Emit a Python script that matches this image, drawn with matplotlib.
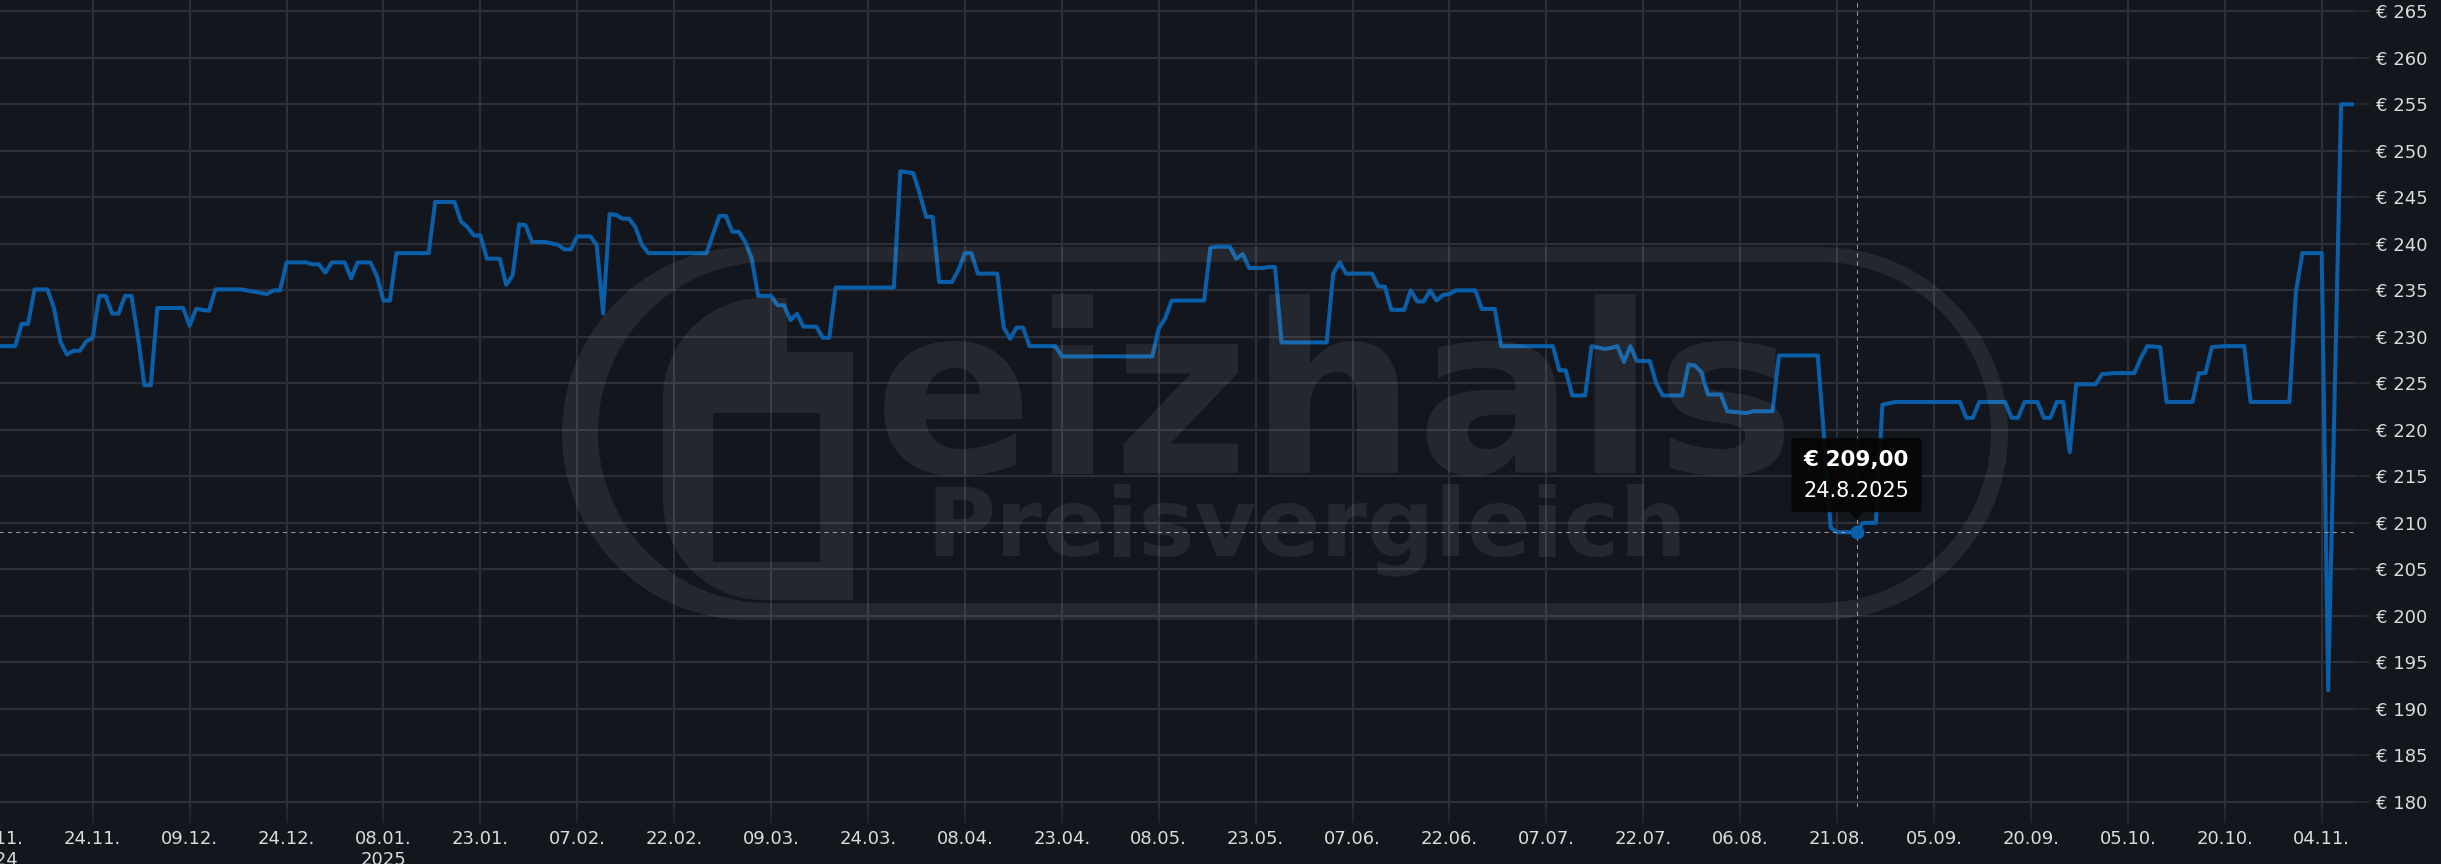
import numpy as np
import pandas as pd
import matplotlib
matplotlib.use("Agg")
import matplotlib.pyplot as plt
import matplotlib.dates as mdates
import matplotlib.transforms as mtransforms
from matplotlib.path import Path
from matplotlib.patches import PathPatch, FancyBboxPatch, Polygon

# price history: days after 24.11.2024 and price in EUR
start_date = "2024-11-24"
day_offsets = [
    -15, -12, -11, -10, -9, -7, -6, -5, -4, -3, -2, -1, 0, 1, 2, 3, 4, 5, 6, 7,
    8, 9, 10, 14, 15, 16, 18, 19, 23, 27, 28, 29, 30, 33, 34, 35, 36, 37, 39, 40,
    41, 43, 44, 45, 46, 47, 52, 53, 56, 57, 58, 59, 60, 61, 63, 64, 65, 66, 67, 68,
    70, 72, 73, 74, 75, 77, 78, 79, 80, 81, 82, 83, 84, 85, 86, 95, 97, 98, 99, 100,
    101, 102, 103, 105, 106, 107, 108, 109, 110, 112, 113, 114, 115, 124, 125, 127, 128, 129, 130, 131,
    133, 134, 135, 136, 137, 140, 141, 142, 143, 144, 145, 149, 150, 164, 165, 166, 167, 172, 173, 174,
    176, 177, 178, 179, 181, 182, 183, 184, 191, 192, 193, 194, 198, 199, 200, 201, 203, 204, 205, 206,
    207, 208, 209, 210, 211, 214, 215, 217, 218, 226, 227, 228, 229, 231, 232, 234, 235, 236, 237, 238,
    239, 241, 242, 243, 246, 247, 248, 249, 250, 252, 253, 256, 257, 260, 261, 267, 268, 269, 270, 273,
    274, 276, 277, 279, 289, 290, 291, 292, 296, 297, 298, 299, 301, 302, 303, 304, 305, 306, 307, 310,
    311, 313, 316, 317, 318, 320, 321, 325, 326, 327, 328, 330, 333, 334, 340, 341, 342, 345, 346, 348,
    350,
]
prices = [
    229, 229, 231.4, 231.4, 235.1, 235.1, 233.1, 229.5, 228.1, 228.5, 228.5, 229.5, 229.9, 234.4, 234.4, 232.5, 232.5, 234.4, 234.4, 230,
    224.8, 224.8, 233.1, 233.1, 231.2, 233, 232.8, 235.1, 235.1, 234.6, 235, 235, 238, 238, 237.8, 237.8, 236.9, 238, 238, 236.3,
    238, 238, 236.5, 233.9, 233.9, 239, 239, 244.5, 244.5, 242.4, 241.8, 240.9, 240.9, 238.4, 238.4, 235.6, 236.6, 242.1, 242, 240.2,
    240.2, 239.9, 239.4, 239.4, 240.8, 240.8, 239.9, 232.5, 243.2, 243.1, 242.7, 242.7, 241.8, 239.9, 239, 239, 243, 243, 241.3, 241.3,
    240.2, 238.4, 234.4, 234.4, 233.4, 233.4, 231.8, 232.5, 231.1, 231.1, 229.9, 229.9, 235.3, 235.3, 247.8, 247.6, 245.4, 242.9, 242.9, 235.9,
    235.9, 237.2, 239, 239, 236.8, 236.8, 231, 229.8, 231, 231, 229, 229, 227.9, 227.9, 230.9, 232, 233.9, 233.9, 239.6, 239.7,
    239.7, 238.4, 238.9, 237.4, 237.4, 237.5, 237.5, 229.4, 229.4, 236.8, 238, 236.8, 236.8, 235.4, 235.4, 232.9, 232.9, 235, 233.8, 233.8,
    235, 233.9, 234.5, 234.6, 235, 235, 233, 233, 229, 229, 226.4, 226.4, 223.7, 223.7, 229, 228.7, 228.8, 229, 227.3, 229,
    227.4, 227.4, 225, 223.7, 223.7, 227, 226.9, 226.2, 223.8, 223.8, 222, 221.8, 222, 222, 228, 228, 219, 209.5, 209, 209,
    210, 210, 222.7, 223, 223, 221.3, 221.3, 223, 223, 221.3, 221.3, 223, 223, 221.3, 221.3, 223, 223, 217.6, 224.9, 224.9,
    226, 226.1, 226.1, 227.7, 229, 228.9, 223, 223, 226.1, 226.1, 228.9, 229, 229, 223, 223, 234.8, 239, 239, 192, 255,
    255,
]

tick_dates = [
    "2024-11-09", "2024-11-24", "2024-12-09", "2024-12-24", "2025-01-08", "2025-01-23", "2025-02-07",
    "2025-02-22", "2025-03-09", "2025-03-24", "2025-04-08", "2025-04-23", "2025-05-08", "2025-05-23",
    "2025-06-07", "2025-06-22", "2025-07-07", "2025-07-22", "2025-08-06", "2025-08-21", "2025-09-05",
    "2025-09-20", "2025-10-05", "2025-10-20", "2025-11-04",
]
tick_labels = [
    "09.11.\n2024", "24.11.", "09.12.", "24.12.", "08.01.\n2025", "23.01.", "07.02.",
    "22.02.", "09.03.", "24.03.", "08.04.", "23.04.", "08.05.", "23.05.",
    "07.06.", "22.06.", "07.07.", "22.07.", "06.08.", "21.08.", "05.09.",
    "20.09.", "05.10.", "20.10.", "04.11.",
]
price_ticks = list(range(180, 266, 5))

hover_date = "2025-08-24"
hover_price = 209.00
hover_title = "€ 209,00"
hover_sub = "24.8.2025"

BG = "#13161d"
GRID = "#2c2f37"
TICK = "#23262d"
LINE = "#0a5fa8"
TXT = "#dcdcdc"

W, H = 2441, 864
fig = plt.figure(figsize=(W / 100, H / 100), dpi=100, facecolor=BG)
ax = fig.add_axes([-4.2 / W, 1 - 807 / H, 2358.2 / W, 807 / H])
ax.set_facecolor(BG)

dates = pd.Timestamp(start_date) + pd.to_timedelta(day_offsets, unit="D")
ax.plot(dates, prices, color=LINE, lw=2.9, solid_joinstyle="round",
        solid_capstyle="round", zorder=3)

ax.set_xlim(pd.Timestamp("2024-11-09"), pd.Timestamp("2025-11-09"))
ax.set_ylim(179.46, 266.21)

ax.set_xticks(pd.to_datetime(tick_dates))
ax.set_xticklabels(tick_labels)
ax.yaxis.tick_right()
ax.set_yticks(price_ticks)
ax.set_yticklabels(["€ %d" % v for v in price_ticks])
ax.tick_params(axis="x", length=11.5, width=1.5, color=TICK, labelcolor=TXT,
               labelsize=13, pad=5)
ax.tick_params(axis="y", length=11.5, width=1.5, color=TICK, labelcolor=TXT,
               labelsize=13, pad=4)
ax.grid(True, color=GRID, lw=1.5)
ax.set_axisbelow(True)
for s in ax.spines.values():
    s.set_visible(False)

# crosshair + hovered point
hx = pd.Timestamp(hover_date)
ax.axhline(hover_price, color="#9a9a9a", lw=0.75, ls=(0, (4, 4)), zorder=4)
ax.axvline(hx, color="#9a9a9a", lw=0.75, ls=(0, (4, 4)), zorder=4)
ax.plot([hx], [hover_price], "o", ms=9, color=LINE, zorder=6)

# pixel transform (origin top left) for the watermark and tooltip
px = mtransforms.Affine2D().scale(1, -1).translate(0, H)
WM = (1, 1, 1, 0.075)


def stadium(x0, x1, y0, y1, n=80):
    r = (y1 - y0) / 2
    cy = (y0 + y1) / 2
    t = np.linspace(np.pi / 2, 3 * np.pi / 2, n)
    left = np.column_stack([x0 + r + r * np.cos(t), cy - r * np.sin(t)])
    t = np.linspace(-np.pi / 2, np.pi / 2, n)
    right = np.column_stack([x1 - r + r * np.cos(t), cy - r * np.sin(t)])
    return np.vstack([left, right])


def ring(outer, inner):
    verts = np.vstack([outer, outer[:1], inner[::-1], inner[-1:]])
    codes = ([Path.MOVETO] + [Path.LINETO] * (len(outer) - 1) + [Path.CLOSEPOLY]
             + [Path.MOVETO] + [Path.LINETO] * (len(inner) - 1) + [Path.CLOSEPOLY])
    return Path(verts, codes)


outer = stadium(562, 2008, 247, 620)
inner = stadium(598, 1991, 262, 603)
ax.add_patch(PathPatch(ring(outer, inner), fc=WM, ec="none",
                       transform=px, zorder=5, clip_on=False))

# G body with hole
t = np.linspace(np.pi / 2, 3 * np.pi / 2, 40)
g_outer = np.vstack([
    [[853, 352], [787, 352], [787, 298]],
    np.column_stack([763 + 100 * np.cos(t[:20]), 398 - 100 * np.sin(t[:20])]),
    np.column_stack([763 + 100 * np.cos(t[20:]), 500 - 100 * np.sin(t[20:])]),
    [[853, 600]],
])
g_hole = np.array([[713, 413], [713, 562], [820, 562], [820, 413]])
ax.add_patch(PathPatch(ring(g_outer, g_hole), fc=WM, ec="none",
                       transform=px, zorder=5, clip_on=False))

ax.text(874, 473, "eizhals", transform=px, fontsize=169, fontweight="bold",
        color=WM, ha="left", va="baseline", zorder=5)
ax.text(926, 556, "Preisvergleich", transform=px, fontsize=68, fontweight="bold",
        color=WM, ha="left", va="baseline", zorder=5)

# tooltip
fig.canvas.draw()
dx, dy = ax.transData.transform((mdates.date2num(hx), hover_price))
py = H - dy
ax.add_patch(FancyBboxPatch((dx - 65, py - 94), 130, 74,
                            boxstyle="round,pad=0,rounding_size=3",
                            fc=(0.02, 0.02, 0.02, 0.92), ec="none",
                            transform=px, zorder=7, clip_on=False))
ax.add_patch(Polygon([[dx - 7, py - 20.5], [dx + 7, py - 20.5], [dx, py - 13]],
                     closed=True, fc=(0.02, 0.02, 0.02, 0.92), ec="none",
                     transform=px, zorder=7, clip_on=False))
ax.text(dx, py - 72, hover_title, transform=px, fontsize=15.5, fontweight="bold",
        color="white", ha="center", va="center", zorder=8)
ax.text(dx, py - 41, hover_sub, transform=px, fontsize=15, color="white",
        ha="center", va="center", zorder=8)

fig.savefig("out.png", dpi=100, facecolor=BG)
